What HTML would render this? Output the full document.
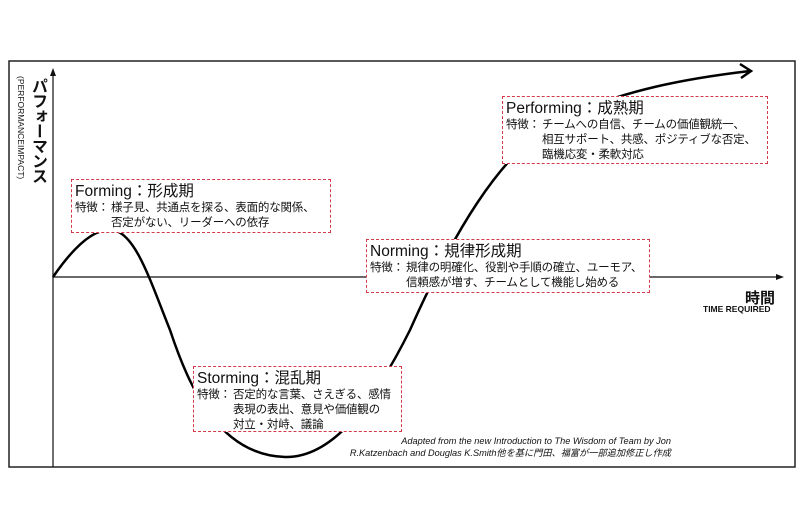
<html><head><style>
body{margin:0;width:800px;height:531px;background:#fff;position:relative;overflow:hidden;font-family:"Liberation Sans","Noto Sans CJK JP",sans-serif;color:#111}
.box{position:absolute;border:1px dashed #d23a4a;background:#fff;box-sizing:border-box;padding:2px 3px}
.t{font-size:15.5px;line-height:19px;white-space:nowrap}
.d{font-size:11.5px;line-height:15px;white-space:nowrap;letter-spacing:-0.2px}
.d span{display:inline-block;width:36px}
.ind{padding-left:36px}
</style></head><body>
<svg width="800" height="531" style="position:absolute;left:0;top:0">
<rect x="9" y="61" width="786" height="406" fill="none" stroke="#222" stroke-width="1.5"/>
<line x1="53" y1="467" x2="53" y2="74" stroke="#111" stroke-width="1.2"/>
<polygon points="53,68 50,76 56,76" fill="#111"/>
<line x1="53" y1="277" x2="778" y2="277" stroke="#111" stroke-width="1.2"/>
<polygon points="784,277 776,274 776,280" fill="#111"/>
<path d="M53,277 C75,245 95,228 112,230 C135,232 150,280 170,330 C190,390 220,455 285,457 C330,458 370,410 410,330 C450,240 500,150 560,120 C620,90 690,78 750,71" fill="none" stroke="#000" stroke-width="2.5"/>
<path d="M740,64 L751,71 L741,78" fill="none" stroke="#000" stroke-width="2.5"/>
</svg>
<div style="position:absolute;left:25px;top:78px;writing-mode:vertical-rl;font-size:16px;font-weight:bold;letter-spacing:-1px">パフォーマンス</div>
<div style="position:absolute;left:16px;top:76px;writing-mode:vertical-rl;font-size:8.5px">(PERFORMANCEIMPACT)</div>
<div style="position:absolute;left:745px;top:287px;font-size:15px;font-weight:bold">時間</div>
<div style="position:absolute;left:703px;top:304px;font-size:8.5px;font-weight:bold">TIME REQUIRED</div>
<div class="box" style="left:71px;top:179px;width:260px;height:54px"><div class="t">Forming：形成期</div><div class="d"><span>特徴：</span>様子見、共通点を探る、表面的な関係、</div><div class="d ind">否定がない、リーダーへの依存</div></div>
<div class="box" style="left:366px;top:239px;width:284px;height:54px"><div class="t">Norming：規律形成期</div><div class="d"><span>特徴：</span>規律の明確化、役割や手順の確立、ユーモア、</div><div class="d ind">信頼感が増す、チームとして機能し始める</div></div>
<div class="box" style="left:502px;top:96px;width:266px;height:68px"><div class="t">Performing：成熟期</div><div class="d"><span>特徴：</span>チームへの自信、チームの価値観統一、</div><div class="d ind">相互サポート、共感、ポジティブな否定、</div><div class="d ind">臨機応変・柔軟対応</div></div>
<div class="box" style="left:193px;top:366px;width:209px;height:66px"><div class="t">Storming：混乱期</div><div class="d"><span>特徴：</span>否定的な言葉、さえぎる、感情</div><div class="d ind">表現の表出、意見や価値観の</div><div class="d ind">対立・対峙、議論</div></div>
<div style="position:absolute;right:129px;top:435px;font-size:9.2px;line-height:12px;font-style:italic;text-align:right;white-space:nowrap">Adapted from the new Introduction to The Wisdom of Team by Jon<br>R.Katzenbach and Douglas K.Smith他を基に門田、福富が一部追加修正し作成</div>
</body></html>
